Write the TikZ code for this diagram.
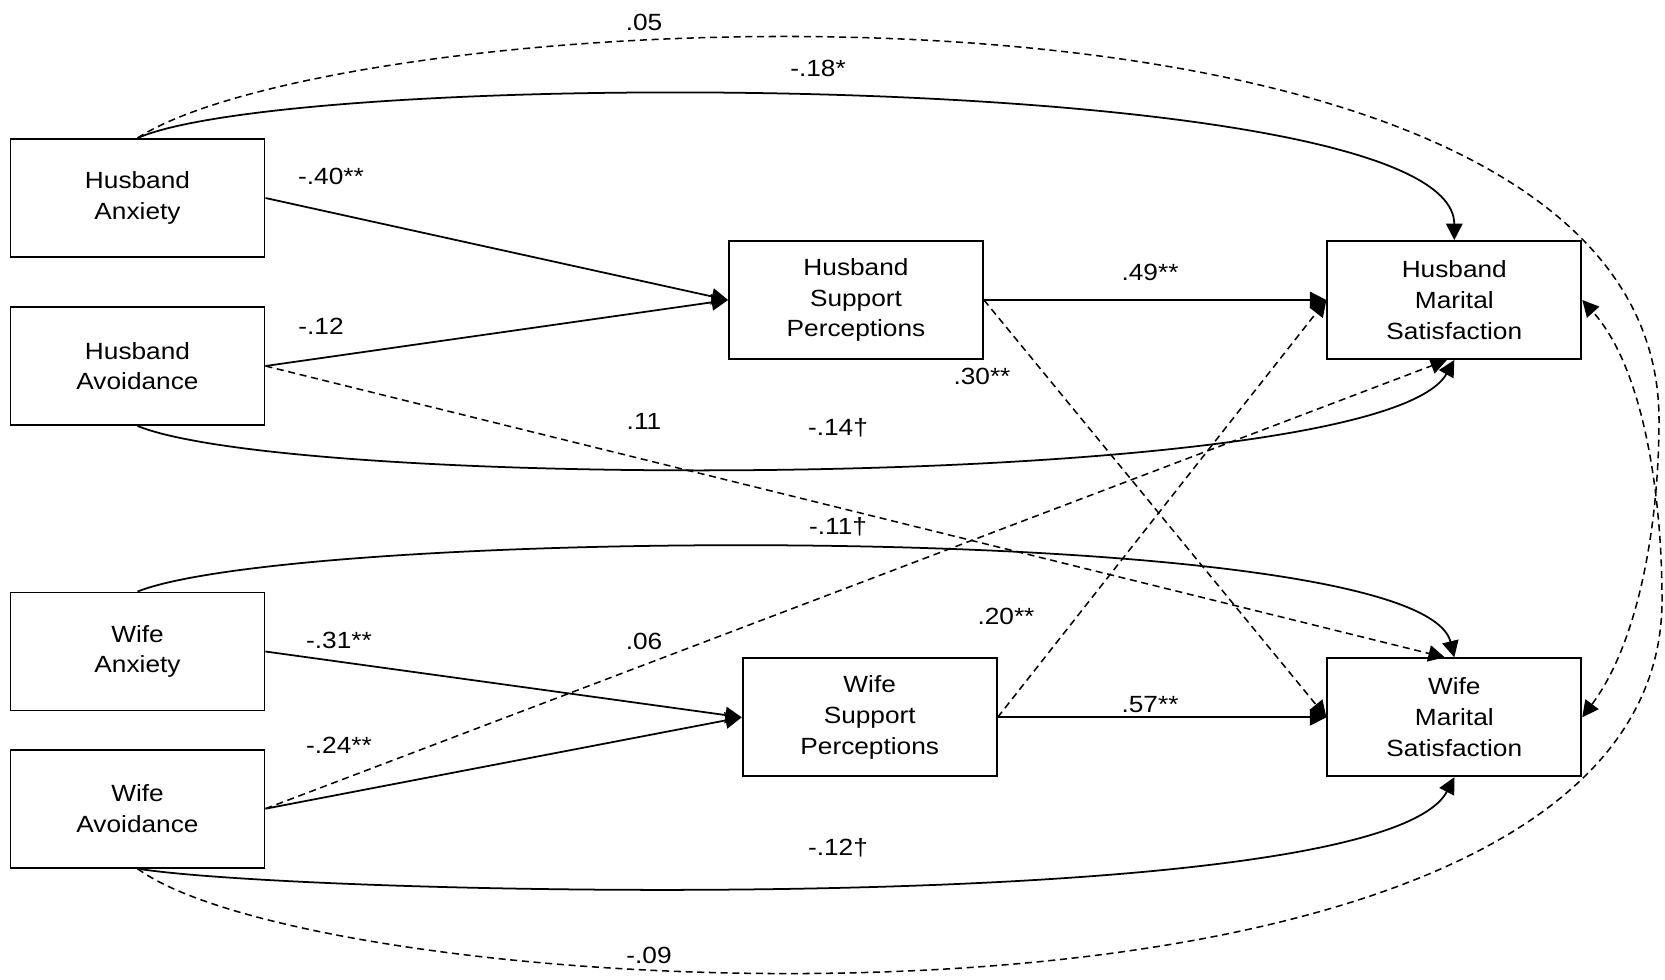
\documentclass[tikz,border=0pt]{standalone}
\usepackage{fontspec}
\setmainfont{Liberation Sans}[FakeStretch=1.12]
\usetikzlibrary{arrows.meta}

\begin{document}
\begin{tikzpicture}[
		x=0.015cm, y=-0.015cm,
		var/.style={rectangle, draw, line width=0.8pt, minimum width=3.81cm, minimum height=1.77cm, align=center, inner sep=0pt},
		coef/.style={inner sep=0pt},
		eff/.style={line width=0.75pt},
		peff/.style={line width=0.65pt, dash pattern=on 3pt off 2pt},
		font=\fontsize{10}{13.1}\selectfont,
		>={Triangle[length=7pt, width=7pt]}
	]

	\useasboundingbox (0,0) rectangle (1665,979);

	\node[var] (ha) at (137.5,198) {Husband\\Anxiety};
	\node[var] (hav) at (137.5,366) {Husband\\Avoidance};
	\node[var] (wa) at (137.5,651.5) {Wife\\Anxiety};
	\node[var] (wav) at (137.5,808.7) {Wife\\Avoidance};
	\node[var] (hsp) at (856,300) {Husband\\Support\\Perceptions};
	\node[var] (wsp) at (869.7,717.3) {Wife\\Support\\Perceptions};
	\node[var] (hms) at (1454.3,300) {Husband\\Marital\\Satisfaction};
	\node[var] (wms) at (1454.3,717.3) {Wife\\Marital\\Satisfaction};

	% coefficients
	\node[coef] (c05) at (644,22) {.05};
	\node[coef] (c18) at (818,68) {-.18*};
	\node[coef] (c40) at (331,176) {-.40**};
	\node[coef] (c12h) at (321,326) {-.12};
	\node[coef] (c49) at (1150,272) {.49**};
	\node[coef] (c30) at (982,376) {.30**};
	\node[coef] (c11) at (644,421) {.11};
	\node[coef] (c14) at (838,428) {-.14†};
	\node[coef] (c11w) at (838,527) {-.11†};
	\node[coef] (c20) at (1006,616) {.20**};
	\node[coef] (c31) at (339,640) {-.31**};
	\node[coef] (c06) at (644,641) {.06};
	\node[coef] (c24) at (339,745) {-.24**};
	\node[coef] (c57) at (1150,705) {.57**};
	\node[coef] (c12w) at (838,848) {-.12†};
	\node[coef] (c09) at (649,955) {-.09};

	\foreach \i/\j in {ha/hsp, hav/hsp, wa/wsp, wav/wsp, hsp/hms, wsp/wms}
		\draw[eff, ->] (\i.east) -- (\j.west);

	\foreach \i/\j in {hsp/wms, wsp/hms}
		\draw[peff, ->] (\i.east) -- (\j.west);

	\draw[peff, ->] (hav.east) -- (wms.99);
	\draw[peff, ->] (wav.east) -- (hms.-97);

	\draw[eff, ->] (ha.north) .. controls (300,67) and (1454,67) .. (hms.north);
	\draw[eff, ->] (hav.south) .. controls (300,492) and (1380,492) .. (hms.south);
	\draw[eff, ->] (wa.north) .. controls (300,527) and (1420,518) .. (wms.north);
	\draw[eff, ->] (wav.south) .. controls (300,895) and (1380,920) .. (wms.south);

	% partner effects round the right side
	\coordinate (rtop) at (1659,420);
	\coordinate (rbot) at (1662,600);
	\draw[peff, ->] (ha.north) .. controls (350,0) and (1659,-70) .. (rtop) .. controls (1659,520) and (1640,640) .. (wms.east);
	\draw[peff, ->] (wav.south) .. controls (330,1010) and (1662,1080) .. (rbot) .. controls (1662,500) and (1645,370) .. (hms.east);

\end{tikzpicture}
\end{document}
